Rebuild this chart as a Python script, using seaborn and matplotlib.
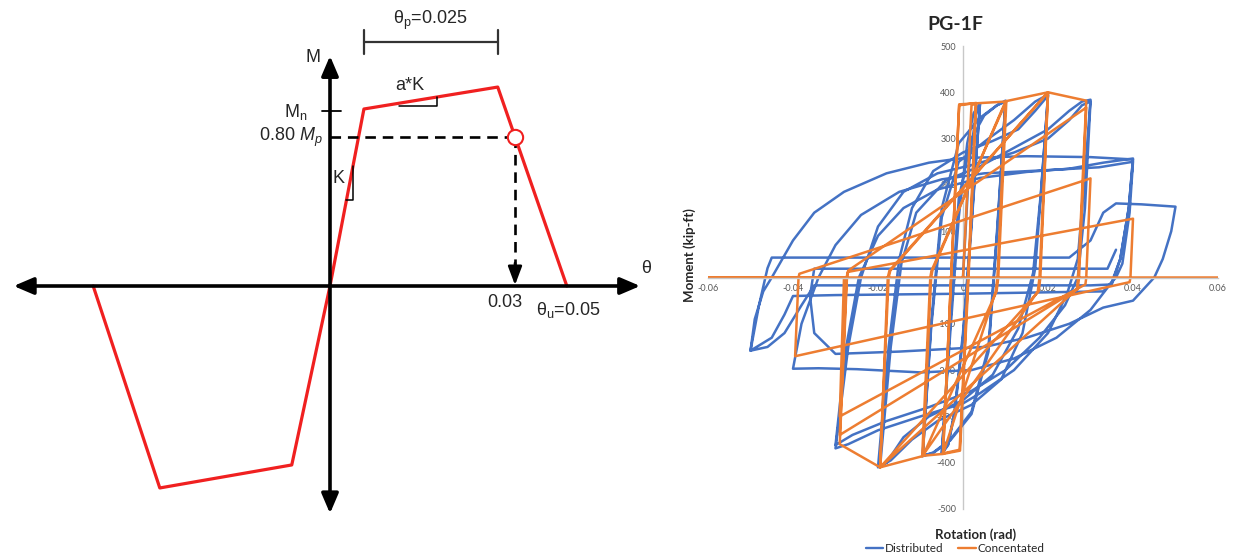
import numpy as np
import pandas as pd
import matplotlib
matplotlib.use("Agg")
import matplotlib.pyplot as plt
import seaborn as sns
from matplotlib.lines import Line2D

# ---------------- data: left schematic backbone ----------------
bb_theta = [-0.0384, -0.0276, -0.0062, 0.0, 0.0055, 0.0272, 0.0384]
bb_M = [0.0, -1.141, -1.011, 0.0, 1.0, 1.124, 0.0]
theta_80 = 0.030
M_80 = 0.842
M_n = 1.0

# ---------------- data: right hysteresis ----------------
blue_rot = [0.000, 0.0015, 0.003, 0.004, 0.002, 0.000, -0.002, -0.0035, -0.005,
            -0.003, -0.001, 0.001, 0.0025, 0.004, 0.002, 0.000, -0.002, -0.0035, -0.005,
            -0.003, -0.001, 0.002, 0.005, 0.008, 0.010, 0.008, 0.006, 0.002, -0.003, -0.007, -0.0095,
            -0.0075, -0.005, -0.001, 0.004, 0.008, 0.010, 0.008, 0.006, 0.002, -0.003, -0.007, -0.0095,
            -0.0075, -0.005, -0.001, 0.006, 0.012, 0.017, 0.020, 0.0185, 0.017, 0.014, 0.009, 0.002,
            -0.006, -0.012, -0.017, -0.020,
            -0.0175, -0.015, -0.012, -0.007, 0.000, 0.007, 0.013, 0.017, 0.020, 0.0183, 0.0165, 0.013,
            0.007, 0.000, -0.008, -0.014, -0.018, -0.0195,
            -0.017, -0.0145, -0.011, -0.004, 0.004, 0.012, 0.020, 0.025, 0.028, 0.030, 0.0285, 0.027,
            0.0245, 0.020, 0.012, 0.004, 0.000, -0.010, -0.020, -0.027, -0.030,
            -0.027, -0.024, -0.020, -0.014, -0.006, 0.003, 0.012, 0.020, 0.025, 0.028, 0.030, 0.0287,
            0.027, 0.024, 0.018, 0.010, 0.002, -0.008, -0.018, -0.026, -0.030,
            -0.0275, -0.0245, -0.020, -0.014, -0.006, 0.004, 0.015, 0.025, 0.033, 0.040, 0.039, 0.037,
            0.035, 0.030, 0.022, 0.012, 0.002, -0.010, -0.025, -0.034, -0.040,
            -0.038, -0.034, -0.030, -0.024, -0.015, -0.005, 0.005, 0.020, 0.032, 0.040, 0.0392, 0.0375,
            0.036, 0.033, 0.000, -0.030, -0.040, -0.042, -0.045, -0.050,
            -0.049, -0.047, -0.045, -0.040, -0.035, -0.028, -0.018, -0.008, 0.000, 0.015, 0.030, 0.040,
            0.039, 0.037, 0.035, 0.030, 0.000, -0.035, -0.038, -0.042, -0.046, -0.050,
            -0.048, -0.046, -0.045, 0.000, 0.025, 0.030, 0.033, 0.036, 0.042, 0.050,
            0.049, 0.047, 0.045, 0.040, 0.033, 0.025, 0.015, 0.005,
            -0.015, -0.030, -0.035, -0.036, -0.035, 0.000, 0.034, 0.036]
blue_mom = [0, 250, 350, 375, 120, -120, -290, -360, -380,
            -120, 130, 290, 355, 376, 110, -130, -295, -362, -381,
            -100, 170, 300, 350, 372, 380, 100, -150, -290, -350, -378, -385,
            -100, 150, 290, 345, 372, 382, 90, -160, -295, -352, -379, -386,
            -110, 130, 250, 300, 340, 380, 395, 200, 20, -120, -220, -275,
            -310, -350, -395, -410,
            -150, 40, 150, 230, 270, 295, 320, 360, 393, 180, 10, -110,
            -210, -265, -300, -345, -400, -408,
            -150, 30, 140, 210, 240, 280, 320, 360, 380, 384, 200, 40,
            -35, -120, -200, -250, -272, -300, -330, -360, -369,
            -150, 0, 110, 185, 225, 245, 270, 300, 340, 372, 380, 150,
            0, -60, -130, -200, -245, -280, -310, -340, -362,
            -150, 0, 90, 150, 190, 215, 228, 235, 248, 257, 150, 40,
            -10, -70, -130, -175, -200, -205, -198, -196, -197,
            -100, 0, 70, 135, 185, 212, 225, 232, 238, 250, 140, 30,
            0, -30, -35, -38, -40, -80, -130, -158,
            -90, -30, 0, 80, 140, 185, 225, 248, 258, 262, 260, 255,
            150, 40, -15, -17, -17, -17, -60, -120, -150, -158,
            -60, 20, 43, 43, 43, 80, 140, 160, 158, 153,
            100, 40, 0, -50, -65, -100, -130, -150,
            -160, -165, -120, -40, 19, 19, 19, 60]

orange_rot = [0.0000, 0.0020, 0.0030, 0.0012, -0.0008, -0.0047, -0.0028, -0.0009, 0.0031, 0.0013,
              -0.0007, -0.0047,
              -0.0028, -0.0009, 0.0100, 0.0081, 0.0077, -0.0047, -0.0094, -0.0075, -0.0072, 0.0100,
              0.0102, 0.0083, 0.0079, -0.0094, -0.0096, -0.0077, -0.0074, 0.0102,
              0.0200, 0.0180, 0.0176, -0.0096, -0.0195, -0.0175, -0.0171, 0.0200,
              0.0182, 0.0178, -0.0195, -0.0177, -0.0173, 0.0200,
              0.0290, 0.0271, 0.0268, -0.0195, -0.0290, -0.0273, -0.0270, 0.0290, 0.0273, 0.0270,
              -0.0290, -0.0274, -0.0271,
              0.0400, 0.0394, 0.0392, -0.0395, -0.0387, -0.0385, 0.0300, 0.0290, 0.0288,
              -0.0290, -0.0280, -0.0600, 0.0600]
orange_mom = [0, 372, 376, 0, -372, -380, 0, 372, 377, 0,
              -374, -381,
              0, 374, 380, 0, -30, -381, -385, 0, 15, 380,
              381, 0, -30, -385, -386, 0, 15, 381,
              400, 0, -30, -386, -410, 0, 15, 400,
              0, -30, -410, 0, 15, 400,
              382, 0, -25, -410, -360, 0, 15, 367, 0, -25,
              -340, 0, 12,
              127, 0, -10, -170, 0, 8, 214, 0, -15,
              -300, 0, 0, 0]

x_ticks = [-0.06, -0.04, -0.02, 0.0, 0.02, 0.04, 0.06]
x_tick_labels = ["-0.06", "-0.04", "-0.02", "0", "0.02", "0.04", "0.06"]
y_ticks = [-500, -400, -300, -200, -100, 0, 100, 200, 300, 400, 500]
y_tick_labels = [str(v) for v in y_ticks]

BLUE = "#4472C4"
ORANGE = "#ED7D31"
RED = "#F02020"

sns.set_theme(style="white")
plt.rcParams["font.family"] = ["Liberation Sans", "DejaVu Sans"]
plt.rcParams["mathtext.fontset"] = "custom"
plt.rcParams["mathtext.rm"] = "Liberation Sans"
plt.rcParams["mathtext.it"] = "Liberation Sans:italic"

fig = plt.figure(figsize=(12.36, 5.58), dpi=100)

# ======================= left schematic =======================
ax1 = fig.add_axes([0, 0, 660 / 1236, 1])
ax1.set_xlim(-0.05351, 0.05351)
ax1.set_ylim(-1.5367, 1.6158)
ax1.axis("off")

arrow_kw = dict(arrowstyle="<|-|>,head_length=0.75,head_width=0.32", color="black",
                lw=2.6, shrinkA=0, shrinkB=0, mutation_scale=16)
ax1.annotate("", xy=(0.0503, 0), xytext=(-0.0513, 0), arrowprops=arrow_kw)
ax1.annotate("", xy=(0, 1.30), xytext=(0, -1.285), arrowprops=arrow_kw)

sns.lineplot(x=bb_theta, y=bb_M, sort=False, estimator=None, color=RED, lw=2.3, ax=ax1)

# dashed lines to 0.8Mp point
ax1.plot([0, theta_80], [M_80, M_80], ls=(0, (4, 2.6)), color="black", lw=1.9)
ax1.plot([theta_80, theta_80], [M_80, 0.12], ls=(0, (4, 2.6)), color="black", lw=1.9)
ax1.annotate("", xy=(theta_80, 0.005), xytext=(theta_80, 0.13),
             arrowprops=dict(arrowstyle="-|>,head_length=0.8,head_width=0.3", color="black",
                             lw=1.9, shrinkA=0, shrinkB=0, mutation_scale=14))
ax1.plot([theta_80], [M_80], "o", ms=11, mfc="white", mec=RED, mew=1.5, zorder=5)

# Mn tick
ax1.plot([-0.0013, 0.0018], [0.99, 0.99], color="black", lw=1.3)

# K slope triangle
ax1.plot([0.00267, 0.00373, 0.00373], [0.486, 0.486, 0.678], color="black", lw=1.1)
# a*K slope triangle
ax1.plot([0.0112, 0.01735, 0.01735], [1.017, 1.017, 1.068], color="black", lw=1.1)

# theta_p bracket
ax1.plot([bb_theta[4], bb_theta[5]], [1.3785, 1.3785], color="#333333", lw=1.6)
ax1.plot([bb_theta[4], bb_theta[4]], [1.311, 1.446], color="#333333", lw=1.6)
ax1.plot([bb_theta[5], bb_theta[5]], [1.311, 1.446], color="#333333", lw=1.6)

fs = 13
ax1.text(0.01622, 1.50, "θ$_\\mathregular{p}$=0.025", ha="center", va="center", fontsize=fs)
ax1.text(-0.0027, 1.29, "M", ha="center", va="center", fontsize=fs)
ax1.text(-0.0036, 0.985, "M$_\\mathregular{n}$", ha="right", va="center", fontsize=fs)
ax1.text(-0.0012, 0.842, "0.80 $M_p$", ha="right", va="center", fontsize=fs)
ax1.text(0.0014, 0.61, "K", ha="center", va="center", fontsize=fs)
ax1.text(0.01297, 1.13, "a*K", ha="center", va="center", fontsize=fs)
ax1.text(0.0512, 0.10, "θ", ha="center", va="center", fontsize=fs)
ax1.text(0.02838, -0.092, "0.03", ha="center", va="center", fontsize=fs)
ax1.text(0.0386, -0.137, "θ$_\\mathregular{u}$=0.05", ha="center", va="center", fontsize=fs)

# ======================= right hysteresis =======================
ax2 = fig.add_axes([708 / 1236, 49 / 558, 510 / 1236, 463 / 558])
df = pd.concat([
    pd.DataFrame({"Rotation": blue_rot, "Moment": blue_mom, "Model": "Distributed"}),
    pd.DataFrame({"Rotation": orange_rot, "Moment": orange_mom, "Model": "Concentated"}),
], ignore_index=True)
sns.lineplot(data=df, x="Rotation", y="Moment", hue="Model",
             hue_order=["Distributed", "Concentated"],
             palette={"Distributed": BLUE, "Concentated": ORANGE},
             sort=False, estimator=None, lw=1.8, legend=False, ax=ax2)
ax2.set_xlim(-0.06, 0.06)
ax2.set_ylim(-500, 500)
ax2.set_xlabel("")
ax2.set_ylabel("")
ax2.grid(False)
for s in ["top", "right"]:
    ax2.spines[s].set_visible(False)
ax2.spines["left"].set_position(("data", 0))
ax2.spines["bottom"].set_position(("data", 0))
ax2.spines["left"].set_color("#C8C8C8")
ax2.spines["bottom"].set_color("#C8C8C8")
ax2.spines["left"].set_linewidth(1.0)
ax2.spines["bottom"].set_linewidth(1.0)
ax2.spines["left"].set_zorder(0.5)
ax2.set_xticks(x_ticks)
ax2.set_xticklabels(x_tick_labels)
ax2.set_yticks(y_ticks)
ax2.set_yticklabels(y_tick_labels)
ax2.tick_params(length=0, labelsize=6.5, colors="#595959", pad=5)
for lbl in ax2.get_xticklabels() + ax2.get_yticklabels():
    lbl.set_fontfamily(["Lato", "DejaVu Sans"])

fig.text(955 / 1236, 1 - 24 / 558, "PG-1F", ha="center", va="center", fontsize=14,
         fontweight="bold", family=["Lato", "DejaVu Sans"])
fig.text(976 / 1236, 1 - 535 / 558, "Rotation (rad)", ha="center", va="center", fontsize=9.5,
         fontweight="bold", family=["Lato", "DejaVu Sans"])
fig.text(690 / 1236, 1 - 255 / 558, "Moment (kip-ft)", ha="center", va="center", fontsize=9.5,
         fontweight="bold", rotation=90, family=["Lato", "DejaVu Sans"])

handles = [Line2D([], [], color=BLUE, lw=1.7, label="Distributed"),
           Line2D([], [], color=ORANGE, lw=1.7, label="Concentated")]
fig.legend(handles=handles, loc="center", bbox_to_anchor=(955 / 1236, 1 - 549 / 558), ncol=2,
           frameon=False, handlelength=1.5, handletextpad=0.15, columnspacing=1.2,
           prop={"family": ["Lato", "DejaVu Sans"], "size": 8.5}, borderpad=0)

fig.savefig("out.png", dpi=100)
